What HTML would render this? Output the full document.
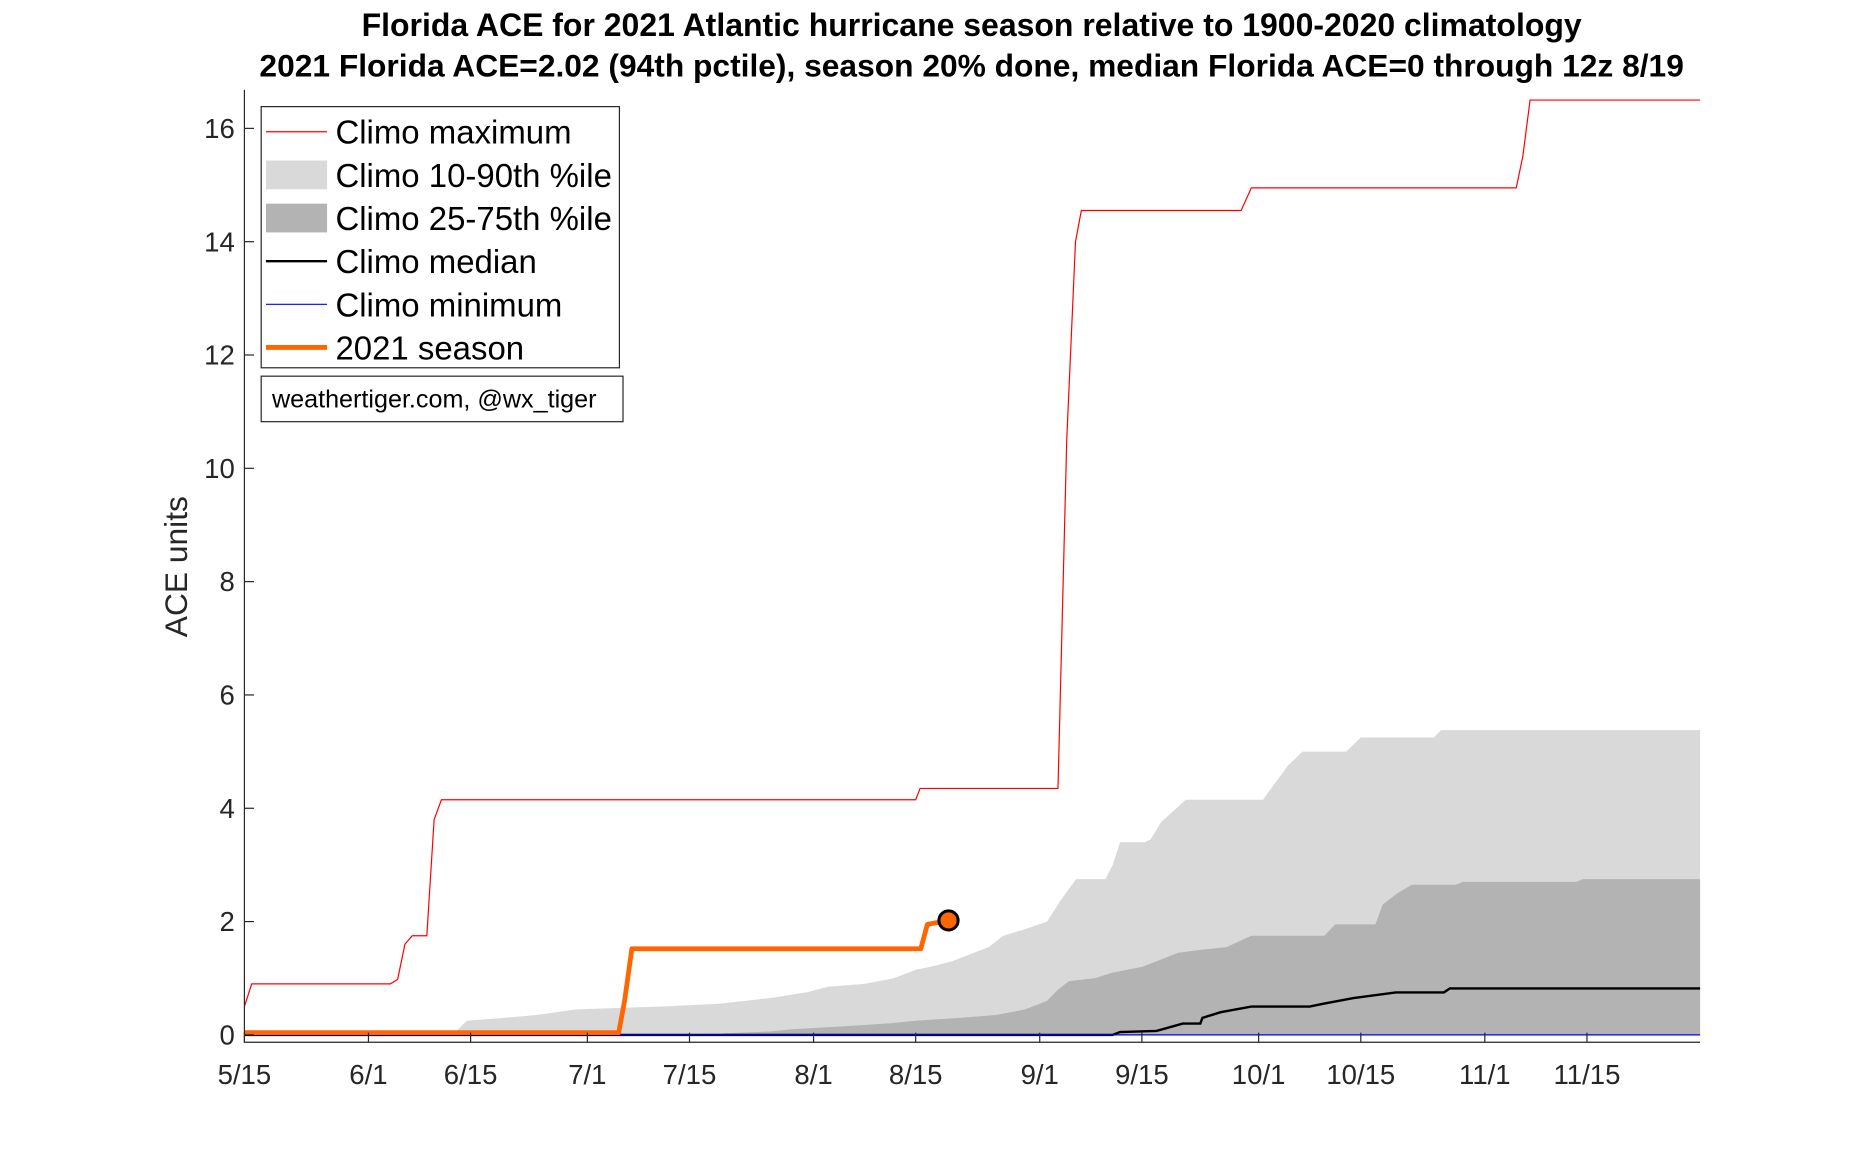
<!DOCTYPE html>
<html><head><meta charset="utf-8"><style>
html,body{margin:0;padding:0;background:#fff;}
svg{display:block;font-family:"Liberation Sans",Arial,sans-serif;}
</style></head><body>
<svg id="chart" width="1875" height="1172" viewBox="0 0 1565 978.3" preserveAspectRatio="none" xmlns="http://www.w3.org/2000/svg">
<text x="811" y="30" text-anchor="middle" font-size="26.7" font-weight="bold">Florida ACE for 2021 Atlantic hurricane season relative to 1900-2020 climatology</text>
<text x="811" y="64" text-anchor="middle" font-size="26.5" font-weight="bold">2021 Florida ACE=2.02 (94th pctile), season 20% done, median Florida ACE=0 through 12z 8/19</text>
<g id="plot"></g>
<text transform="translate(156,473) rotate(-90)" text-anchor="middle" font-size="26.5" fill="#262626">ACE units</text>
</svg>
<script>
// data (day index from 5/15)
const maxDays=[0,1,20,21,22,23,25,26,27,92,92.6,111.5,112.7,113.9,114.7,136.6,138,174.3,175.2,176.2,200];
const maxVals=[0.5,0.9,0.9,0.98,1.6,1.75,1.75,3.8,4.15,4.15,4.35,4.35,10.5,14,14.55,14.55,14.95,14.95,15.5,16.5,16.5];
const p90Days=[0,28.5,30.5,35.6,40,45.5,57,65,72,77,80,85,89,92,94,97,100,102,104,106.6,110,112,114,118,119,120,123.4,124.2,125.6,129,139.6,141,143,145,151,153,163,164,200];
const p90Vals=[0,0,0.25,0.3,0.35,0.45,0.5,0.55,0.65,0.75,0.85,0.9,1.0,1.15,1.2,1.3,1.45,1.55,1.75,1.85,2.0,2.4,2.75,2.75,3.0,3.4,3.4,3.45,3.75,4.15,4.15,4.4,4.75,5.0,5.0,5.25,5.25,5.38,5.38];
const p75Days=[0,64,66,72,75,82,88,92,98,103,107,110,111.5,113,116.5,119,123,128,131,134.6,138,148,149.5,155,156,158,160,166,167,182.5,183.5,200];
const p75Vals=[0,0,0.03,0.06,0.1,0.15,0.2,0.25,0.3,0.35,0.45,0.6,0.8,0.95,1.0,1.1,1.2,1.45,1.5,1.55,1.75,1.75,1.95,1.95,2.3,2.5,2.65,2.65,2.7,2.7,2.75,2.75];
const medDays=[0,119,120,125,128.6,131,131.3,133.8,138,146,147.9,152,157.8,164.4,165.2,200];
const medVals=[0,0,0.05,0.07,0.2,0.2,0.3,0.4,0.5,0.5,0.55,0.65,0.75,0.75,0.82,0.82];
const minDays=[0,200];
const minVals=[0,0];
const seasonDays=[0,51.3,52.1,53.1,92.7,93.6,96.5];
const seasonVals=[0.04,0.04,0.6,1.52,1.52,1.95,2.02];
const xTickDays=[0,17,31,47,61,78,92,109,123,139,153,170,184];
const xTickLabels=['5/15','6/1','6/15','7/1','7/15','8/1','8/15','9/1','9/15','10/1','10/15','11/1','11/15'];
const yTicks=[0,2,4,6,8,10,12,14,16];

const L=204,R=1419,T=75,B=870,DMAX=199.5,YMIN=-0.13,YMAX=16.68;
const X=d=>Math.min(R,L+d/DMAX*(R-L));
const Y=v=>B-(v-YMIN)/(YMAX-YMIN)*(B-T);
const NS='http://www.w3.org/2000/svg';
const g=document.getElementById('plot');
function mk(tag,attrs){const e=document.createElementNS(NS,tag);for(const k in attrs)e.setAttribute(k,attrs[k]);g.appendChild(e);return e;}
function pts(ds,vs){return ds.map((d,i)=>X(d).toFixed(2)+','+Y(vs[i]).toFixed(2)).join(' ');}
function area(ds,vs){return pts(ds,vs)+' '+X(ds[ds.length-1])+','+Y(0)+' '+X(ds[0])+','+Y(0);}

let e;
e=mk('polygon',{points:area(p90Days,p90Vals),fill:'#d9d9d9'});


e=mk('polygon',{points:area(p75Days,p75Vals),fill:'#b3b3b3'});


e=mk('polyline',{points:pts(maxDays,maxVals),fill:'none',stroke:'#ff0000','stroke-width':1});


e=mk('polyline',{points:pts(medDays,medVals),fill:'none',stroke:'#000','stroke-width':2});


e=mk('polyline',{points:pts(minDays,minVals),fill:'none',stroke:'#0000ff','stroke-width':1});


e=mk('polyline',{points:pts(seasonDays,seasonVals),fill:'none',stroke:'#ff6600','stroke-width':4,'stroke-linejoin':'round'});


const li=seasonDays.length-1;
e=mk('circle',{cx:X(seasonDays[li]),cy:Y(seasonVals[li]),r:8,fill:'#ff6600',stroke:'#000','stroke-width':2.5});



// axes
e=mk('path',{d:`M${L},${T}V${B}H${R}`,fill:'none',stroke:'#262626','stroke-width':1});


xTickDays.forEach((d,i)=>{
 e=mk('line',{x1:X(d),x2:X(d),y1:B,y2:B-8,stroke:'#262626','stroke-width':1});
 
 
 e=mk('text',{x:X(d),y:B+35,'text-anchor':'middle','font-size':23,fill:'#262626'});
 e.textContent=xTickLabels[i];
 
 
});
yTicks.forEach(v=>{
 e=mk('line',{x1:L,x2:L+8,y1:Y(v),y2:Y(v),stroke:'#262626','stroke-width':1});
 
 
 e=mk('text',{x:L-8,y:Y(v)+8,'text-anchor':'end','font-size':23,fill:'#262626'});
 e.textContent=v;
 
 
});

// legend
e=mk('rect',{x:218,y:89,width:299,height:218,fill:'#fff',stroke:'#262626','stroke-width':1});


const legLabels=['Climo maximum','Climo 10-90th %ile','Climo 25-75th %ile','Climo median','Climo minimum','2021 season'];
legLabels.forEach((t,i)=>{
 const y=110+i*36;
 if(i===1||i===2){
  e=mk('rect',{x:222,y:y-12,width:51,height:24,fill:i===1?'#d9d9d9':'#b3b3b3'});
 }else{
  const c=['#ff0000',0,0,'#000','#0000ff','#ff6600'][i];
  const w=[1,0,0,2,1,4][i];
  e=mk('line',{x1:222,x2:273,y1:y,y2:y,stroke:c,'stroke-width':w});
 }
 
 
 e=mk('text',{x:280,y:y+10,'font-size':27.5,fill:'#000'});
 e.textContent=t;
 
 
});
e=mk('rect',{x:218,y:314,width:302,height:38,fill:'#fff',stroke:'#262626','stroke-width':1});


e=mk('text',{x:227,y:340,'font-size':21,fill:'#000'});
e.textContent='weathertiger.com, @wx_tiger';


</script>
</body></html>
